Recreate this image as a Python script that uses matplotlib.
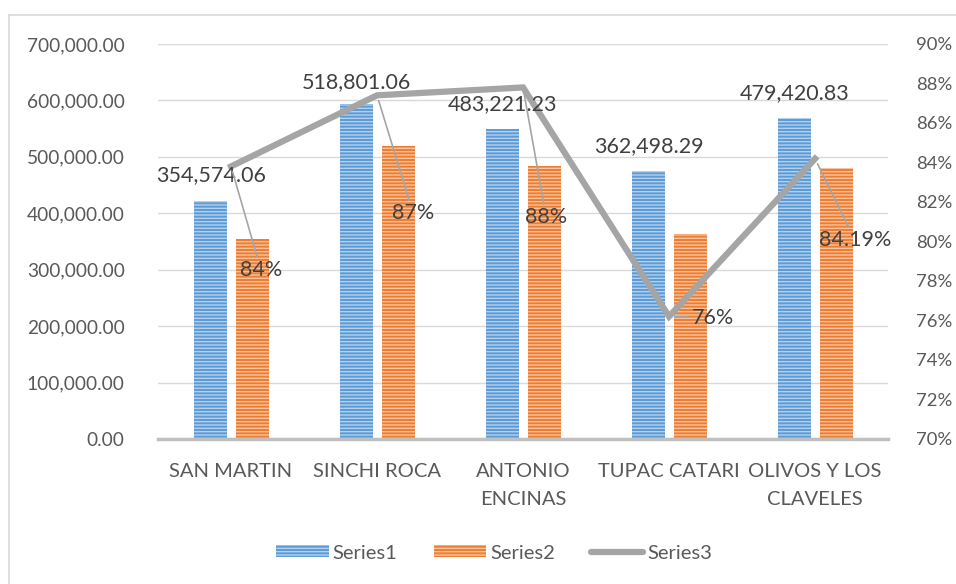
import matplotlib
matplotlib.use("Agg")
import matplotlib.pyplot as plt
from matplotlib.lines import Line2D
from matplotlib.patches import Patch
from matplotlib.ticker import FuncFormatter, MultipleLocator

categories = ["SAN MARTIN", "SINCHI ROCA", "ANTONIO\nENCINAS", "TUPAC CATARI", "OLIVOS Y LOS\nCLAVELES"]
series1 = [422000, 593500, 550000, 475500, 569500]
series2 = [354574.06, 518801.06, 483221.23, 362498.29, 479420.83]
series3 = [0.838, 0.874, 0.878, 0.762, 0.8419]
pct_labels = ["84%", "87%", "88%", "76%", "84.19%"]

# where the labels were dragged to in the original (x offset, y in left-axis units)
value_label_pos = [(-0.14, 468000), (-0.14, 632500), (-0.14, 594000), (-0.14, 519000), (-0.14, 613000)]
pct_label_pos = [(0.205, 299500), (0.247, 400500), (0.158, 393500), (0.30, 214500), (0.274, 352500)]

BLUE = "#5b9bd5"
BLUE_STRIPE = "#b4d0ee"
ORANGE = "#ed7d31"
ORANGE_STRIPE = "#f7c4a2"
GRAY = "#a5a5a5"
TEXT = "#595959"

plt.rcParams["font.family"] = ["Lato", "DejaVu Sans"]
plt.rcParams["hatch.linewidth"] = 1.0

fig = plt.figure(figsize=(9.56, 5.84), dpi=100)
ax = fig.add_axes([0.1653, 0.2483, 0.7636, 0.6764])
ax2 = ax.twinx()

x = list(range(len(categories)))
w = 0.226
ax.bar([i - 0.14 for i in x], series1, w, color=BLUE, edgecolor=BLUE_STRIPE,
       linewidth=0, hatch="-----", label="Series1", zorder=2)
ax.bar([i + 0.147 for i in x], series2, w, color=ORANGE, edgecolor=ORANGE_STRIPE,
       linewidth=0, hatch="-----", label="Series2", zorder=2)

ax.set_ylim(0, 700000)
ax.set_xlim(-0.5, len(categories) - 0.5)
ax.yaxis.set_major_locator(MultipleLocator(100000))
ax.yaxis.set_major_formatter(FuncFormatter(lambda v, p: f"{v:,.2f}"))
ax.grid(axis="y", color="#d9d9d9", linewidth=1, zorder=0)
ax.set_axisbelow(True)
ax.set_xticks(x)
ax.set_xticklabels(categories, fontsize=14.5, color=TEXT, linespacing=1.8)
ax.tick_params(axis="y", length=0, labelsize=13.8, labelcolor=TEXT, pad=24)
ax.tick_params(axis="x", length=0, labelcolor=TEXT, pad=17)
for s in ["top", "left", "right"]:
    ax.spines[s].set_visible(False)
ax.spines["bottom"].set_color("#bfbfbf")
ax.spines["bottom"].set_linewidth(2.5)

ax2.plot(x, series3, color=GRAY, linewidth=4.5, solid_joinstyle="miter", zorder=3)
ax2.set_ylim(0.70, 0.90)
ax2.yaxis.set_major_locator(MultipleLocator(0.02))
ax2.yaxis.set_major_formatter(FuncFormatter(lambda v, p: f"{v * 100:.0f}%"))
ax2.tick_params(axis="y", length=0, labelsize=13.3, labelcolor=TEXT, pad=20)
for s in ["top", "left", "right", "bottom"]:
    ax2.spines[s].set_visible(False)

for i, (dx, y) in enumerate(value_label_pos):
    ax2.text(i + dx, y, f"{series2[i]:,.2f}", transform=ax.transData, ha="center",
             va="center", fontsize=15.5, color="#404040", zorder=5)

for i, (dx, y) in enumerate(pct_label_pos):
    ax2.annotate(pct_labels[i], xy=(i, series3[i]), xytext=(i + dx, y),
                 textcoords=ax.transData, ha="center", va="center", fontsize=15.5,
                 color="#404040", zorder=5,
                 arrowprops=dict(arrowstyle="-", color=GRAY, lw=1.2,
                                 shrinkA=0, shrinkB=4))

handles = [
    Patch(facecolor=BLUE, edgecolor=BLUE_STRIPE, linewidth=0, hatch="-----"),
    Patch(facecolor=ORANGE, edgecolor=ORANGE_STRIPE, linewidth=0, hatch="-----"),
    Line2D([0], [0], color=GRAY, linewidth=4.5, solid_capstyle="round"),
]
fig.legend(handles, ["Series1", "Series2", "Series3"], loc="center",
           bbox_to_anchor=(0.517, 0.053), ncol=3, frameon=False, fontsize=14.5,
           labelcolor=TEXT, handlelength=2.6, handleheight=0.55,
           handletextpad=0.2, columnspacing=1.8)

# chart area border (top and left edges visible in the original)
fig.add_artist(Line2D([9 / 956, 9 / 956], [0, 1 - 15 / 584], color="#d9d9d9", lw=1.2,
                      transform=fig.transFigure))
fig.add_artist(Line2D([9 / 956, 1], [1 - 15 / 584, 1 - 15 / 584], color="#d9d9d9", lw=1.2,
                      transform=fig.transFigure))

fig.savefig("out.png", dpi=100, facecolor="white")
